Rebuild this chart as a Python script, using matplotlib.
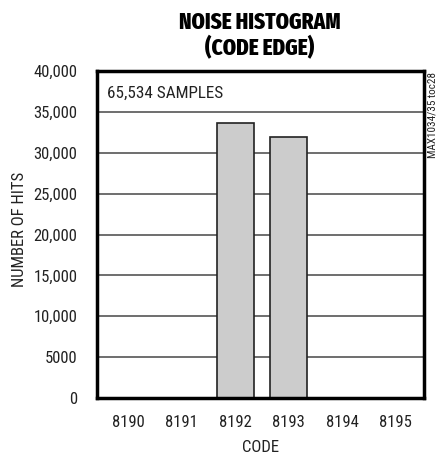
import matplotlib.pyplot as plt
from matplotlib.ticker import FuncFormatter

# data
codes = [8190, 8191, 8192, 8193, 8194, 8195]
hits = [0, 0, 33650, 31884, 0, 0]
yticks = [0, 5000, 10000, 15000, 20000, 25000, 30000, 35000, 40000]

plt.rcParams['font.family'] = ['Roboto Condensed', 'DejaVu Sans']

fig = plt.figure(figsize=(4.37, 4.59), dpi=100)
ax = fig.add_axes([97 / 437, 1 - 398 / 459, 327 / 437, 327 / 459])

ax.bar(codes, hits, width=0.69, color='#cccccc', edgecolor='#222222', linewidth=1.2, zorder=3)

ax.set_xlim(8189.42, 8195.53)
ax.set_ylim(0, 40000)
ax.set_xticks(codes)
ax.set_yticks(yticks)


def fmt(v, pos):
    if v == 0:
        return '0'
    if v < 10000:
        return f'{int(v)}'
    return f'{int(v):,}'


ax.yaxis.set_major_formatter(FuncFormatter(fmt))
ax.tick_params(length=0, labelsize=12, colors='#222222')
ax.tick_params(axis='y', pad=14)
ax.tick_params(axis='x', pad=12)
ax.grid(axis='y', color='#555555', linewidth=1.2, zorder=1)
for s in ax.spines.values():
    s.set_linewidth(2.5)
    s.set_color('black')
    s.set_zorder(4)

ax.set_xlabel('CODE', fontsize=12, color='#222222')
ax.xaxis.set_label_coords(0.5, (398 - 447.5) / 327, transform=ax.transAxes)
ax.xaxis.label.set_va('center')
ax.set_ylabel('NUMBER OF HITS', fontsize=12, color='#222222')
ax.yaxis.set_label_coords((20 - 97) / 327, 0.515)
ax.yaxis.label.set_va('center')

ax.text(0.03, 0.955, '65,534 SAMPLES', transform=ax.transAxes, fontsize=12.3,
        va='top', ha='left', color='#222222', zorder=5,
        bbox=dict(facecolor='white', edgecolor='none', pad=1))

for txt, yc in [('NOISE HISTOGRAM', 20), ('(CODE EDGE)', 45.5)]:
    fig.text(260 / 437, 1 - yc / 459, txt, ha='center', va='center_baseline',
             fontsize=16.5, fontweight=800, family=['Fira Sans Extra Condensed', 'DejaVu Sans'])
fig.text(432.5 / 437, 1 - 72 / 459, 'MAX1034/35 toc28', rotation=90, ha='center', va='top',
         fontsize=8, color='#222222')

fig.savefig('out.png', dpi=100)
